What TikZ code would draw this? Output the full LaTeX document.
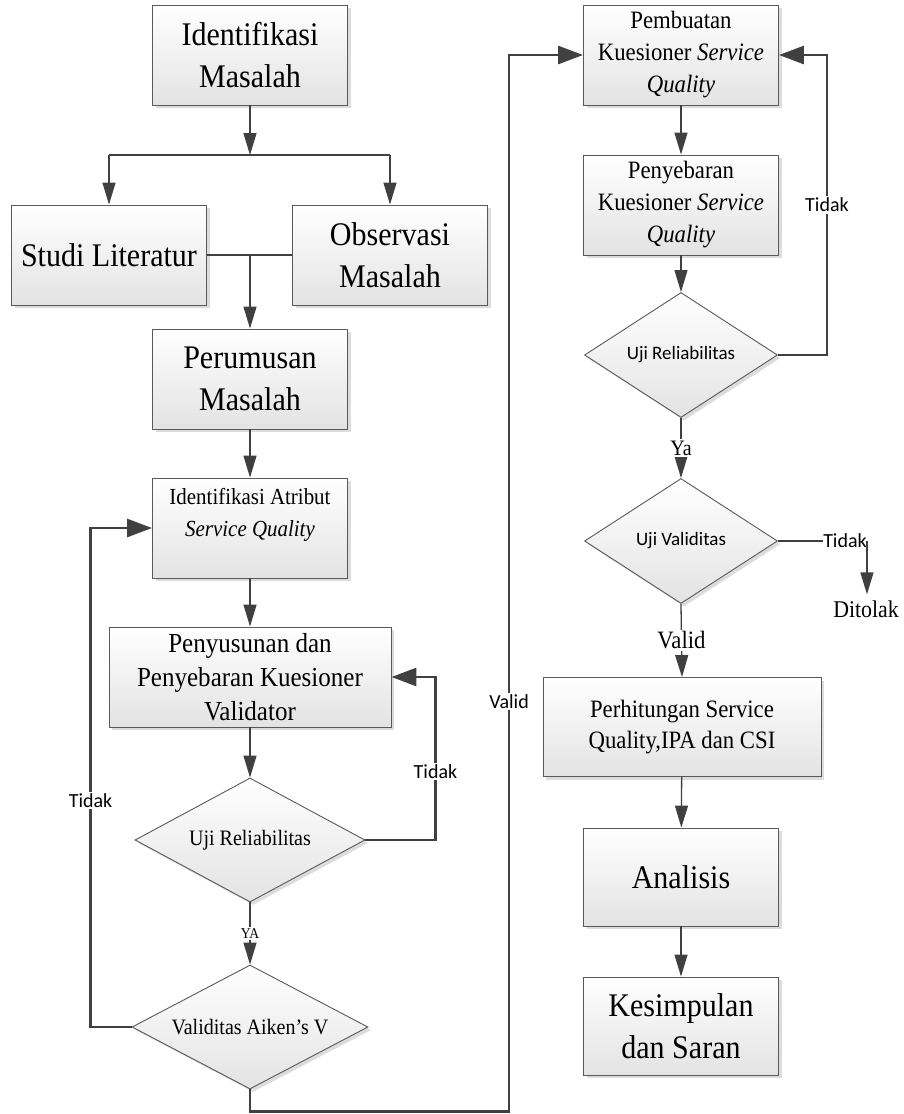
\documentclass[tikz,border=0pt]{standalone}
\usepackage{fontspec}
\setmainfont{Liberation Serif}[FakeStretch=0.91]
\setsansfont{Carlito}
\usetikzlibrary{shapes.geometric,arrows.meta,shadows}

\begin{document}
\begin{tikzpicture}[x=1pt,y=-1pt, % 1pt = 1 pixel, y grows downward
	conn/.style={draw=black!75,line width=1.3pt},
	arr/.style={conn,-{Triangle[length=22pt,width=13pt]}},
	backarr/.style={draw=black!75,line width=2.8pt,-{Triangle[length=25pt,width=18pt]}},
	box/.style={rectangle,draw=black!65,line width=.9pt,top color=white,bottom color=black!11,
		drop shadow={fill=black!30,opacity=.45,shadow xshift=3pt,shadow yshift=-3pt},
		align=center,inner sep=0pt,minimum width=195pt,minimum height=100pt},
	bigbox/.style={box,font=\fontsize{33}{42}\selectfont},
	midbox/.style={box,font=\fontsize{25}{32}\selectfont},
	decision/.style={diamond,aspect=1.9,draw=black!65,line width=.9pt,top color=white,bottom color=black!11,
		drop shadow={fill=black!30,opacity=.45,shadow xshift=3pt,shadow yshift=-3pt},
		inner sep=0pt,minimum width=193pt,minimum height=125pt},
	lbl/.style={fill=white,inner sep=1.5pt,font=\sffamily\fontsize{20}{20}\selectfont},
	lblrm/.style={fill=white,inner sep=1.5pt}]
	\useasboundingbox (0,0) rectangle (904,1114);
	% left column
	\node[bigbox] (im) at (250,55)	{Identifikasi\\Masalah};
	\node[bigbox] (sl) at (109,255)	{Studi Literatur};
	\node[bigbox] (om) at (390,255)	{Observasi\\Masalah};
	\node[bigbox] (pm) at (250,379)	{Perumusan\\Masalah};
	\node[box,font=\fontsize{23}{32}\selectfont] (ia) at (250,528)
		{Identifikasi Atribut\\\textit{Service Quality}\\\mbox{}};
	\node[box,font=\fontsize{27.5}{34}\selectfont,minimum width=282pt] (pny) at (250,677)
		{Penyusunan dan\\Penyebaran Kuesioner\\Validator};
	\node[decision,font=\fontsize{22}{22}\selectfont,minimum width=230pt,minimum height=124pt] (ur1) at (250,840) {Uji Reliabilitas};
	\node[decision,font=\fontsize{22}{22}\selectfont,minimum width=236pt,minimum height=124pt] (av) at (250,1027) {Validitas Aiken's V};
	% right column
	\node[midbox] (pk) at (681,55)	{Pembuatan\\Kuesioner \textit{Service}\\\textit{Quality}};
	\node[midbox] (pq) at (681,205)	{Penyebaran\\Kuesioner \textit{Service}\\\textit{Quality}};
	\node[decision,font=\sffamily\fontsize{19}{19}\selectfont] (ur2) at (681,355) {Uji Reliabilitas};
	\node[decision,font=\sffamily\fontsize{19}{19}\selectfont] (uv) at (681,541) {Uji Validitas};
	\node[box,font=\fontsize{25}{31}\selectfont,minimum width=278pt,minimum height=99pt] (ph) at (682,727)
		{Perhitungan Service\\Quality,IPA dan CSI};
	\node[bigbox,minimum height=98pt] (an) at (681,877) {Analisis};
	\node[bigbox,minimum height=98pt] (ks) at (681,1026) {Kesimpulan\\dan Saran};
	\node[inner sep=0pt,font=\sffamily\fontsize{20}{20}\selectfont] (tdk) at (845,541) {Tidak};
	\node[inner sep=6pt,font=\fontsize{24}{24}\selectfont] (dt) at (866,609) {Ditolak};
	\coordinate (sp) at (250,155);
	\coordinate (mg) at (250,255);

	% connectors, left
	\draw[arr] (im) -- (sp);
	\draw[conn] (sl.north |- sp) -- (om.north |- sp);
	\draw[arr] (sl.north |- sp) -- (sl.north);
	\draw[arr] (om.north |- sp) -- (om.north);
	\draw[conn] (sl.east) -- (om.west);
	\draw[arr] (mg) -- (pm.north);
	\draw[arr] (pm) -- (ia);
	\draw[arr] (ia) -- (pny);
	\draw[arr] (pny.south) -- (ur1.north);
	\draw[backarr] (ur1.east) -- ++(70,0) |- node[lbl,pos=.21] {Tidak} (pny.east);
	\draw[arr] (ur1.south) -- node[lblrm,font=\fontsize{15}{15}\selectfont] {YA} (av.north);
	\draw[backarr] (av.west) -- ++(-41,0) |- node[lbl,pos=.227] {Tidak} (ia.west);
	\draw[backarr] (av.south) -- ++(0,22) -| node[lbl,pos=.694] {Valid} ([xshift=-74pt]pk.west) -- (pk.west);
	% connectors, right
	\draw[arr] (pk) -- (pq);
	\draw[arr] (pq) -- (ur2);
	\draw[backarr] (ur2.east) -- ++(49,0) |- node[lbl,pos=.25] {Tidak} (pk.east);
	\draw[arr] (ur2.south) -- node[lblrm,font=\fontsize{22}{22}\selectfont] {Ya} (uv.north);
	\draw[conn] (uv.east) -- (tdk.west);
	\draw[arr] (tdk.east) -- (tdk.east |- dt.north);
	\draw[arr] (uv.south) -- node[lblrm,font=\fontsize{25}{25}\selectfont] {Valid} (ph.north);
	\draw[arr] (ph) -- (an);
	\draw[arr] (an) -- (ks);
\end{tikzpicture}
\end{document}
